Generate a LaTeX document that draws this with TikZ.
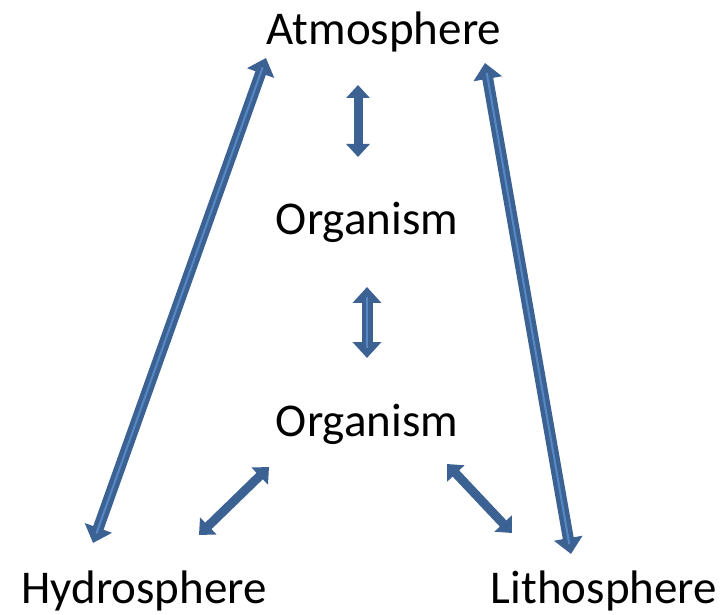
\documentclass[tikz,border=0pt]{standalone}
\usepackage{fontspec}
\setmainfont{Carlito}
\usetikzlibrary{arrows.meta}
\definecolor{cflow}{RGB}{60,98,148}
\definecolor{cshine}{RGB}{86,136,198}

\begin{document}
\begin{tikzpicture}[x=1pt,y=-1pt,
  sphere/.style={anchor=base,inner sep=0pt,font=\fontsize{47}{56}\selectfont},
  flow/.style={cflow,line width=9pt,{Triangle[length=13pt,width=23pt]}-{Triangle[length=13pt,width=23pt]}},
  bigflow/.style={cflow,line width=11pt,{Triangle[length=16pt,width=28pt]}-{Triangle[length=16pt,width=28pt]}},
  shine/.style={cshine,line width=2pt,shorten <=10pt,shorten >=10pt}]
  \useasboundingbox (0,0) rectangle (724,615);
  \node[sphere] (atmo) at (384,45) {Atmosphere};
  \node[sphere] (orgtop) at (367,235) {Organism};
  \node[sphere] (orgbot) at (367,436) {Organism};
  \node[sphere] (hydro) at (144,603) {Hydrosphere};
  \node[sphere] (litho) at (604,603) {Lithosphere};
  % arrow ends
  \coordinate (atmoS) at (358,85);
  \coordinate (orgtopN) at (358,157);
  \coordinate (orgtopS) at (367,287);
  \coordinate (orgbotN) at (367,358);
  \coordinate (orgbotW) at (269,467);
  \coordinate (hydroNE) at (199,535);
  \coordinate (orgbotE) at (447,464);
  \coordinate (lithoNW) at (512,533);
  \coordinate (atmoW) at (266,58);
  \coordinate (hydroN) at (93,543);
  \coordinate (atmoE) at (485,63);
  \coordinate (lithoN) at (571,554);
  % short links
  \draw[flow] (atmoS) -- (orgtopN);
  \draw[flow] (orgbotW) -- (hydroNE);
  \draw[flow] (orgbotE) -- (lithoNW);
  % long links
  \draw[bigflow] (orgtopS) -- (orgbotN);
  \draw[shine] (orgtopS) -- (orgbotN);
  \draw[bigflow] (atmoW) -- (hydroN);
  \draw[shine] (atmoW) -- (hydroN);
  \draw[bigflow] (atmoE) -- (lithoN);
  \draw[shine] (atmoE) -- (lithoN);
\end{tikzpicture}
\end{document}
